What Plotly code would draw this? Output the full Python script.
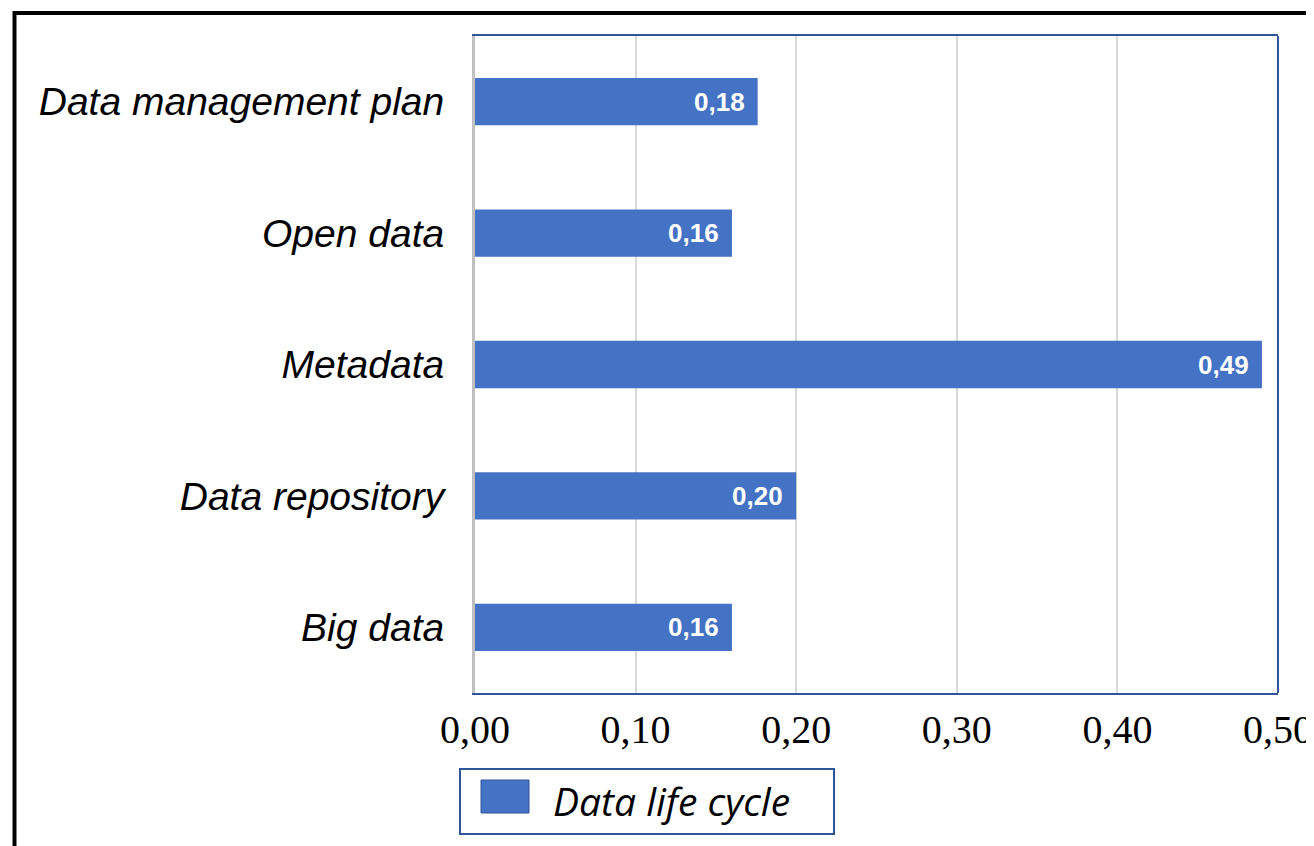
import plotly.graph_objects as go

categories = ["Data management plan", "Open data", "Metadata", "Data repository", "Big data"]
values = [0.176, 0.16, 0.49, 0.20, 0.16]
tick_vals = [0.0, 0.1, 0.2, 0.3, 0.4, 0.5]
tick_text = ["0,00", "0,10", "0,20", "0,30", "0,40", "0,50"]
series_name = "Data life cycle"

BLUE = "#4472C4"
AXIS_BLUE = "#2F5597"

# page offset (browser body margin)
OFF = 7
W, H = 1307, 846
# target screen coordinates of the plot area
SX0, SX1, SY0, SY1 = 474, 1277, 35, 692
L = SX0 - OFF
R = W - (SX1 - OFF)
T = SY0 - OFF
B = H - (SY1 - OFF)
pw = W - L - R
ph = H - T - B

def px(x):
    return (x - OFF - L) / pw

def py(y):
    return (H - B - (y - OFF)) / ph

fig = go.Figure()
fig.add_trace(go.Bar(
    x=values, y=categories, orientation="h",
    marker=dict(color=BLUE, line=dict(width=0)),
    name=series_name, showlegend=False,
))

# data labels (inside end, white bold)
for v, c in zip(values, categories):
    fig.add_annotation(
        x=v, y=c, xref="x", yref="y",
        text="<b>" + f"{v:.2f}".replace(".", ",") + "</b>",
        showarrow=False, xanchor="right", yanchor="middle", xshift=-11,
        font=dict(family="Liberation Sans", size=26, color="white"),
    )

shapes = [
    # outer black frame
    dict(type="rect", xref="paper", yref="paper",
         x0=px(13.5), x1=px(1340), y0=py(12), y1=py(880),
         line=dict(color="black", width=4), fillcolor="rgba(0,0,0,0)", layer="below"),
    # right border of plot area
    dict(type="line", xref="paper", yref="paper", x0=1, x1=1, y0=0, y1=1,
         line=dict(color=AXIS_BLUE, width=2)),
    # legend box
    dict(type="rect", xref="paper", yref="paper",
         x0=px(459), x1=px(833), y0=py(768), y1=py(833),
         line=dict(color=AXIS_BLUE, width=2), fillcolor="white"),
    # legend swatch
    dict(type="rect", xref="paper", yref="paper",
         x0=px(480), x1=px(528), y0=py(779), y1=py(812),
         line=dict(color="#2F5597", width=1), fillcolor=BLUE),
]

fig.add_annotation(
    xref="paper", yref="paper", x=px(550), y=py(799),
    text="<i>" + series_name + "</i>", showarrow=False,
    xanchor="left", yanchor="middle",
    font=dict(family="Open Sans", size=39, color="black"),
)

fig.update_layout(
    width=W, height=H,
    margin=dict(l=L, r=R, t=T, b=B, pad=0, autoexpand=False),
    paper_bgcolor="white", plot_bgcolor="white",
    bargap=0.64,
    shapes=shapes,
    xaxis=dict(
        range=[0, 0.5], tickvals=tick_vals, ticktext=tick_text,
        showgrid=True, gridcolor="#D9D9D9", gridwidth=2,
        showline=True, linecolor=AXIS_BLUE, linewidth=2, mirror=True,
        ticks="", ticklen=0, zeroline=False, automargin=False,
        tickfont=dict(family="Liberation Serif", size=40, color="black"),
        ticklabelstandoff=0, ticklabeloverflow="allow",
    ),
    yaxis=dict(
        autorange="reversed", automargin=False,
        showline=True, linecolor="#BFBFBF", linewidth=3,
        showgrid=False, ticks="", zeroline=False,
        tickfont=dict(family="Liberation Sans", size=39, color="black"),
        ticklabelstandoff=20,
        tickprefix="<i>", ticksuffix="</i>",
    ),
)

fig.write_html("out.html")
